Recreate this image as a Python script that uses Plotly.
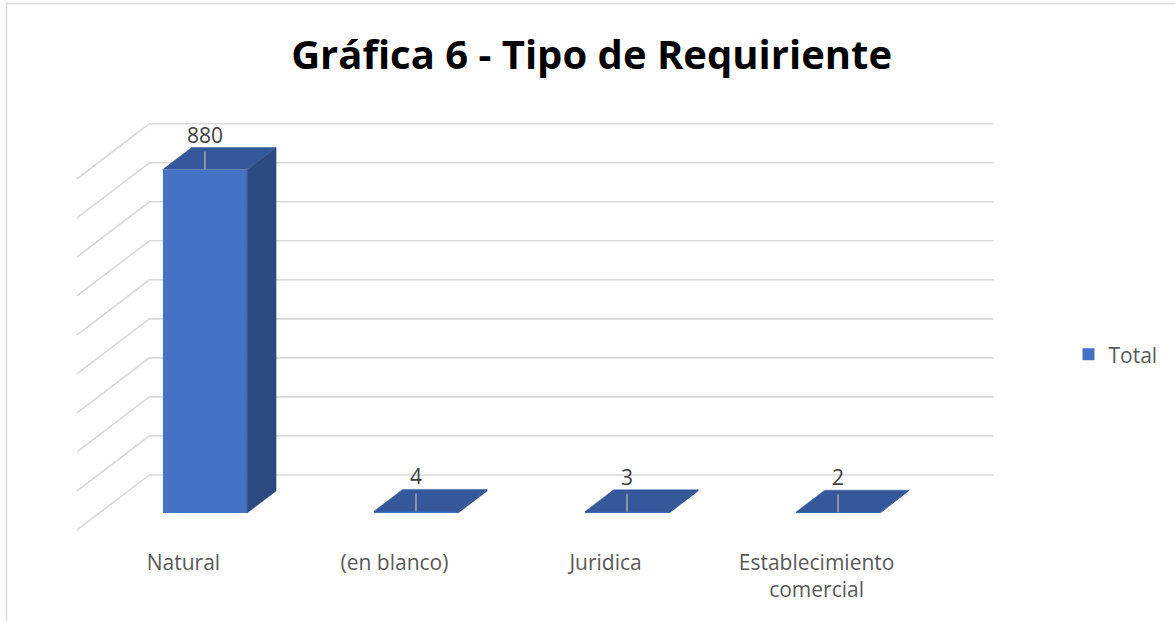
import plotly.graph_objects as go

categories = ["Natural", "(en blanco)", "Juridica", "Establecimiento<br>comercial"]
totals = [880, 4, 3, 2]
grid_ticks = [0, 100, 200, 300, 400, 500, 600, 700, 800, 900]

FRONT = "#4472C4"
TOP = "#34589A"
SIDE = "#2B4A80"
GRID = "#D9D9D9"

# oblique "3D" look: one depth unit = bar depth
bw = 0.4
kx, ky = 0.137, 56.4
d_wall, d_floor = 1.727, -0.773


def proj(x, v, d):
    return x + d * kx, v + d * ky


fig = go.Figure()

# back + side wall gridlines (shapes sit below the traces)
for t in grid_ticks:
    x0, y0 = proj(-0.5, t, d_floor)
    x1, y1 = proj(-0.5, t, d_wall)
    x2, y2 = proj(3.5, t, d_wall)
    fig.add_shape(type="path", path=f"M{x0},{y0} L{x1},{y1} L{x2},{y2}",
                  line=dict(color=GRID, width=1.6), layer="below")

# front faces
fig.add_trace(go.Bar(
    x=list(range(len(totals))), y=totals, width=bw, name="Total",
    marker=dict(color=FRONT, line=dict(width=0)),
))

# top and side faces
for i, v in enumerate(totals):
    xl, xr = i - bw / 2, i + bw / 2
    top = [proj(xl, v, 0), proj(xr, v, 0), proj(xr, v, 1), proj(xl, v, 1)]
    side = [proj(xr, 0, 0), proj(xr, 0, 1), proj(xr, v, 1), proj(xr, v, 0)]
    for pts, col in ((side, SIDE), (top, TOP)):
        fig.add_trace(go.Scatter(
            x=[p[0] for p in pts] + [pts[0][0]], y=[p[1] for p in pts] + [pts[0][1]],
            fill="toself", fillcolor=col, mode="lines", line=dict(width=0.5, color=col),
            showlegend=False, hoverinfo="skip",
        ))

# leader lines
lx, ly = [], []
for i, v in enumerate(totals):
    lx += [i, i, None]
    ly += [v, v + 46, None]
fig.add_trace(go.Scatter(x=lx, y=ly, mode="lines", line=dict(color="#A6A6A6", width=1.5),
                         showlegend=False, hoverinfo="skip"))

for i, v in enumerate(totals):
    fig.add_annotation(x=i, y=v, text=str(v), showarrow=False, yshift=35,
                       font=dict(size=21, color="#404040"))

# chart border
fig.add_shape(type="rect", xref="paper", yref="paper", x0=-0.0084, y0=-0.2, x1=1.2, y1=1.249,
              line=dict(color="#D9D9D9", width=1.5), layer="below")

# category labels sit on the front edge of the floor
label_pos = [i + (d_floor + 0.03) * kx for i in range(len(categories))]

fig.update_layout(
    width=1175, height=621,
    margin=dict(l=15, r=143, t=111, b=78),
    plot_bgcolor="white", paper_bgcolor="white",
    font=dict(family="Open Sans, sans-serif", color="#595959"),
    title=dict(text="<b>Gráfica 6 - Tipo de Requiriente</b>", x=0.5035, xanchor="center",
               y=0.912, yanchor="middle", font=dict(size=40, color="black")),
    showlegend=True,
    legend=dict(x=1.040, y=0.436, xanchor="left", yanchor="middle", font=dict(size=21, color="#595959"),
                bgcolor="rgba(0,0,0,0)"),
    xaxis=dict(range=[-0.9, 3.9], tickvals=label_pos, ticktext=categories,
               showgrid=False, zeroline=False, showline=False, ticks="",
               ticklabelstandoff=5, tickfont=dict(size=21, color="#595959")),
    yaxis=dict(range=[-77, 1030], showgrid=False, zeroline=False, showticklabels=False),
    bargap=0,
)

fig.write_html("out.html", config={"displayModeBar": False},
               post_script="document.body.style.margin='0';")
